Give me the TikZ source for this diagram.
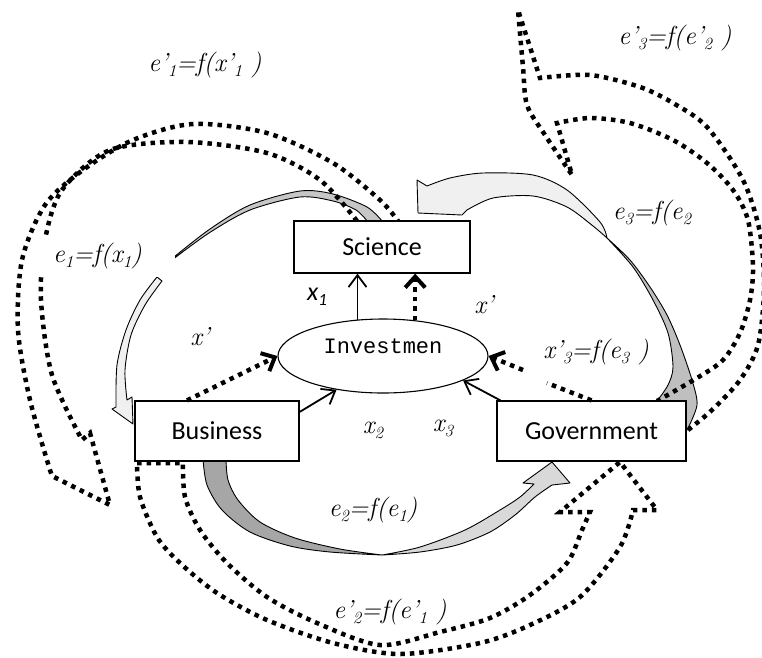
\documentclass[tikz,border=0pt]{standalone}
\usepackage{fontspec}
\newfontfamily\boxfont{Carlito}
\newfontfamily\investfont{Liberation Mono}
\usetikzlibrary{arrows.meta,shapes.geometric}
\newcommand{\lsub}[1]{\raisebox{-5pt}{\fontsize{17}{17}\selectfont #1}}

\tikzset{
  box/.style={draw, fill=white, line width=1.2pt, font=\boxfont\fontsize{26}{30}\selectfont},
  lab/.style={font=\rmfamily\itshape\fontsize{26}{30}\selectfont, inner sep=1pt},
  dotline/.style={line width=4.5pt, dash pattern=on 4.5pt off 5pt},
  band/.style={draw, line width=0.9pt, line join=round},
  solidarr/.style={line width=1.8pt, -{Straight Barb[length=12pt,width=18pt]}},
  dotarr/.style={dotline, -{Straight Barb[length=11pt,width=20pt,line width=4pt]}}
}

\begin{document}
\begin{tikzpicture}[x=1pt,y=-1pt]
        \useasboundingbox (0,0) rectangle (762,657);
        % grey curved arrows
        \filldraw[band, fill=gray!45] plot[smooth] coordinates {(383,222) (367,207) (333,194) (300,191) (250,205) (210,229) (174,257)}
            -- plot[smooth] coordinates {(172,260) (209,233) (250,210) (300,197) (333,201) (356,210) (368,222)} -- cycle;
        \filldraw[band, fill=gray!12] plot[smooth] coordinates {(157,277) (140,300) (126,330) (117,365) (116,407)}
            -- (112,409) -- (133,424) -- (132,397) -- (127,400)
            -- plot[smooth] coordinates {(127,400) (125,370) (131,335) (145,305) (162,281)} -- cycle;
        \filldraw[band, fill=gray!12] (427,186) -- (417,180) -- (418,213) -- (462,215)
            -- plot[smooth] coordinates {(467,210) (493,198) (533,196) (567,207) (593,226) (607,238)}
            -- plot[smooth] coordinates {(607,238) (600,222) (567,190) (533,175) (483,173) (450,178) (427,186)} -- cycle;
        \filldraw[band, fill=gray!50] plot[smooth] coordinates {(607,238) (630,260) (650,287) (667,315) (680,345) (692,380) (697,405) (687,430)}
            -- (657,401) -- plot[smooth] coordinates {(657,401) (668,385) (673,367) (668,333) (653,300) (633,267) (607,238)} -- cycle;
        \filldraw[band, fill=gray!70] plot[smooth] coordinates {(203,459) (207,485) (222,510) (250,532) (290,546) (330,552) (382,555)}
            -- plot[smooth] coordinates {(382,555) (340,549) (295,538) (260,522) (238,500) (228,480) (226,459)} -- cycle;
        \filldraw[band, fill=gray!30] plot[smooth] coordinates {(382,555) (420,552) (457,545) (490,532) (515,515) (535,497) (552,485)}
            -- (570,483) -- (552,462) -- (523,483) -- (534,484)
            -- plot[smooth] coordinates {(534,484) (520,497) (500,510) (465,530) (420,547) (382,555)} -- cycle;

        % dotted curved arrows
        \draw[dotline] plot[smooth] coordinates {(357,221) (320,180) (267,153) (187,142) (110,150) (62,190) (45,240) (41,300) (52,375) (82,440)}
            -- (90,433) -- (110,505) -- (52,476)
            -- plot[smooth] coordinates {(50,470) (30,400) (18,330) (22,260) (45,205) (83,170) (133,140) (193,124) (267,133) (333,163) (380,200) (398,221)};
        \draw[dotline] plot[smooth] coordinates {(688,430) (712,410) (740,380) (758,345) (764,290) (760,233) (743,180) (707,127) (673,103) (640,87) (590,75) (540,78)}
            -- (518,10)
            -- plot[smooth] coordinates {(518,10) (523,67) (527,105) (545,135) (572,175)} -- (557,123)
            -- plot[smooth] coordinates {(557,123) (590,118) (630,123) (673,140) (707,163) (733,190) (748,220) (753,267) (750,300) (740,333) (723,360) (697,378) (657,401)};
        \draw[dotline] (137,463) -- (183,463)
            -- plot[smooth] coordinates {(183,463) (185,497) (200,530) (227,563) (267,597) (317,623) (380,645) (440,632) (490,618) (530,595) (567,563) (582,530) (590,512)}
            -- (560,512) -- (620,462) -- (657,510) -- (633,510)
            -- plot[smooth] coordinates {(633,510) (620,547) (580,597) (530,625) (480,643) (400,654) (333,643) (267,620) (217,593) (180,563) (157,537) (140,497) (137,463)};

        % boxes
        \node[box, minimum width=176pt, minimum height=52pt] (sci) at (382,247) {Science};
        \node[box, minimum width=164pt, minimum height=60pt] (bus) at (217,431) {Business};
        \node[box, minimum width=189pt, minimum height=60pt] (gov) at (591.5,431) {Government};
        \node[draw, ellipse, fill=white, line width=1.1pt, minimum width=210pt, minimum height=74pt, inner sep=0pt,
              font=\investfont\fontsize{22}{26}\selectfont, text height=14pt, text depth=20pt] (inv) at (383,356) {Investmen};

        % flows into investment
        \draw[solidarr] (inv.125) -- (inv.125 |- sci.south);
        \draw[dotarr] (inv.48) -- (inv.48 |- sci.south);
        \draw[solidarr] (bus.13) -- (inv.216);
        \draw[dotarr] ([xshift=-30pt]bus.north) -- (inv.west);
        \draw[solidarr] ([xshift=4pt]gov.north west) -- (inv.343);
        \coordinate (xg1) at (547,383);
        \coordinate (xg2) at (523,370);
        \draw[dotline] (gov.north) -- (xg1);
        \draw[dotarr] (xg2) -- (inv.east);

        % labels
        \node[lab] (e1p) at (205,65) {e’\lsub{1}=f(x’\lsub{1} )};
        \node[lab] (e3p) at (675,38) {e’\lsub{3}=f(e’\lsub{2} )};
        \node[lab] (e3) at (652,213) {e\lsub{3}=f(e\lsub{2}};
        \node[lab, fill=white, anchor=west, inner xsep=18pt, text width=104pt, align=left, minimum height=42pt] (e1) at (35,256) {e\lsub{1}=f(x\lsub{1})};
        \node[lab] (xp1) at (200,337) {x’};
        \node[lab] (xp2) at (484,305) {x’};
        \node[lab, font=\boxfont\itshape\fontsize{26}{30}\selectfont] (x1) at (317,297) {x\lsub{1}};
        \node[lab] (xp3) at (596,352) {x’\lsub{3}=f(e\lsub{3} )};
        \node[lab] (x2) at (373,430) {x\lsub{2}};
        \node[lab] (x3) at (443,428) {x\lsub{3}};
        \node[lab] (e2) at (373,510) {e\lsub{2}=f(e\lsub{1})};
        \node[lab] (e2p) at (390,612) {e’\lsub{2}=f(e’\lsub{1} )};
\end{tikzpicture}
\end{document}
